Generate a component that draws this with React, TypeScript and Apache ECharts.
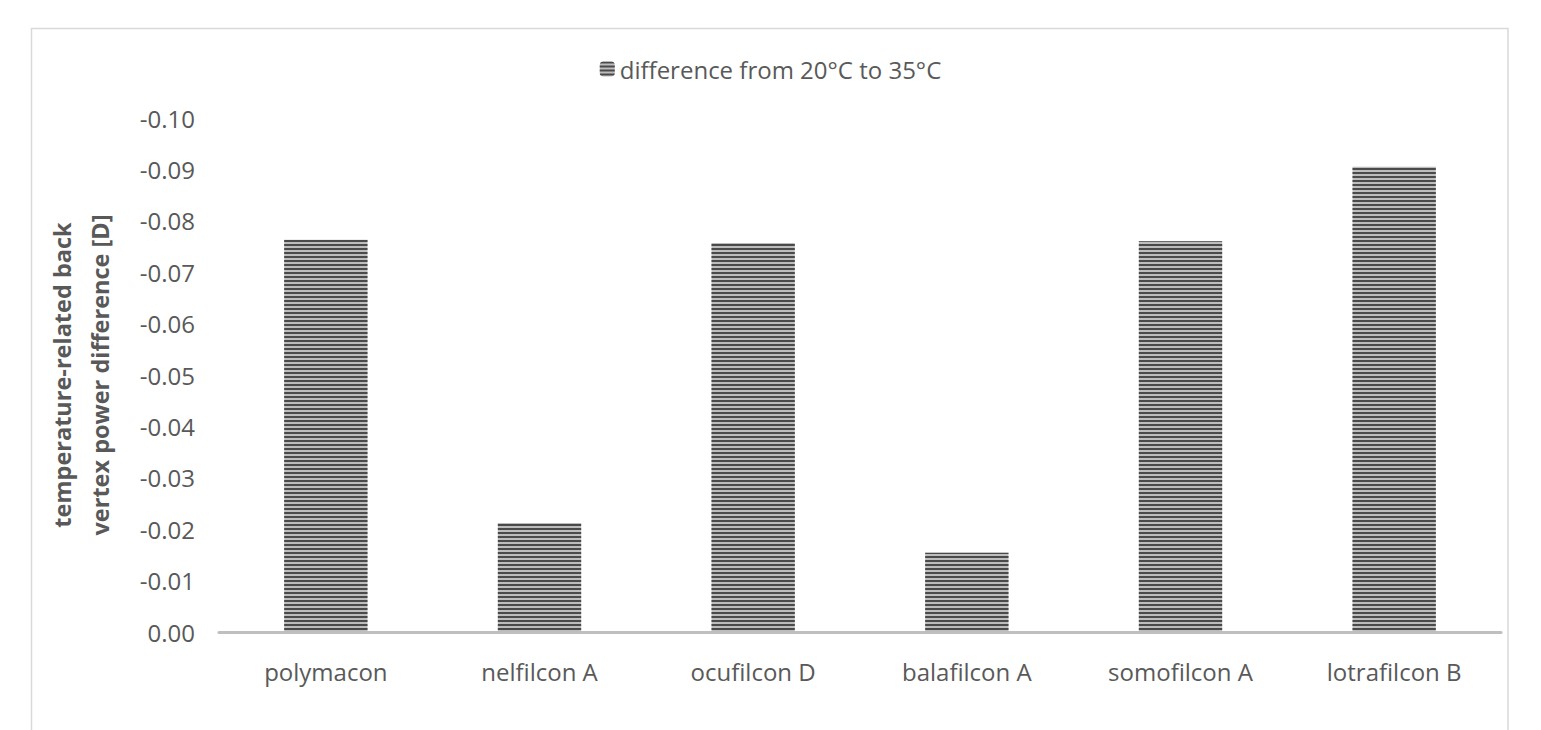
import React, { useEffect, useRef } from "react";
import * as echarts from "echarts";

const categories = ["polymacon", "nelfilcon A", "ocufilcon D", "balafilcon A", "somofilcon A", "lotrafilcon B"];
const seriesName = "difference from 20°C to 35°C";
const values = [-0.0763, -0.0212, -0.0757, -0.0154, -0.0760, -0.0905];
const yTitle = "temperature-related back\nvertex power difference [D]";

const FONT = "'Open Sans', 'Liberation Sans', sans-serif";
const TXT = "#595959";

export default function App() {
  const ref = useRef<HTMLDivElement>(null);
  useEffect(() => {
    const chart = echarts.init(ref.current!, null, { renderer: "svg" });
    chart.setOption({
      animation: false,
      backgroundColor: "#ffffff",
      textStyle: { fontFamily: FONT },
      graphic: [
        {
          type: "rect",
          shape: { x: 31.5, y: 28.5, width: 1476.5, height: 720 },
          style: { fill: "none", stroke: "#d9d9d9", lineWidth: 1.5 },
          silent: true,
        },
      ],
      legend: {
        top: 52,
        left: "center",
        itemWidth: 15,
        itemHeight: 15,
        itemGap: 10,
        textStyle: { fontFamily: FONT, fontSize: 24, color: TXT },
        data: [seriesName],
      },
      grid: { left: 219, right: 40, top: 118, bottom: 98, containLabel: false },
      xAxis: {
        type: "category",
        data: categories,
        axisLine: { show: true, lineStyle: { color: "#bfbfbf", width: 3 } },
        axisTick: { show: false },
        axisLabel: { fontFamily: FONT, fontSize: 24, color: TXT, margin: 27 },
      },
      yAxis: {
        type: "value",
        inverse: true,
        min: -0.1,
        max: 0,
        interval: 0.01,
        axisLine: { show: false },
        axisTick: { show: false },
        splitLine: { show: false },
        axisLabel: {
          fontFamily: FONT,
          fontSize: 24,
          color: TXT,
          margin: 24,
          formatter: (v: number) => (Math.abs(v) < 1e-9 ? "0.00" : v.toFixed(2)),
        },
        name: yTitle,
        nameLocation: "middle",
        nameRotate: 90,
        nameGap: 100,
        nameTextStyle: { fontFamily: FONT, fontSize: 23.5, fontWeight: "bold", color: TXT, lineHeight: 38 },
      },
      series: [
        {
          name: seriesName,
          type: "bar",
          data: values,
          barWidth: "39%",
          itemStyle: {
            color: "#bdbdbd",
            decal: {
              symbol: "rect",
              symbolSize: 1,
              dashArrayX: [1, 0],
              dashArrayY: [2, 2],
              rotation: 0,
              color: "#4a4a4a",
            },
          },
        },
      ],
    });
    return () => chart.dispose();
  }, []);
  return (
    <div
      ref={ref}
      style={{ position: "fixed", left: 0, top: 0, width: 1541, height: 730 }}
    />
  );
}
